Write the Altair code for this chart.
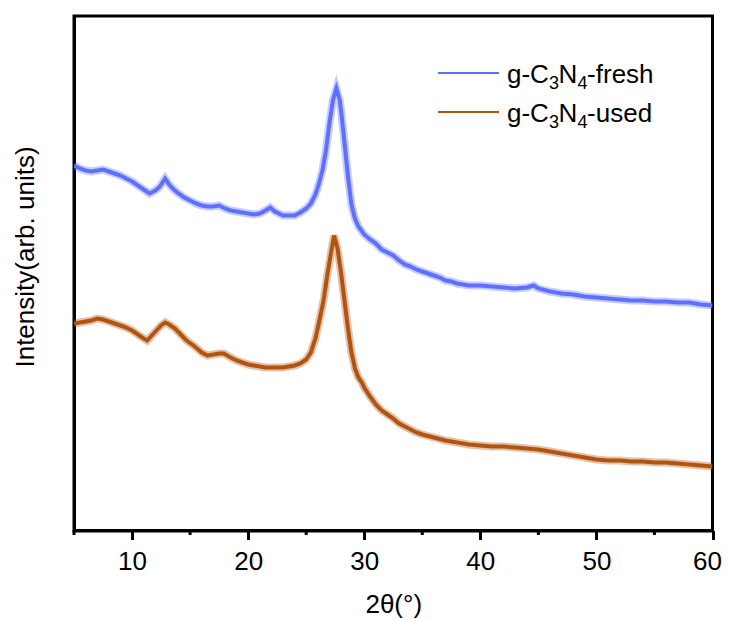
import altair as alt
import pandas as pd

# ---- data (2theta in degrees, intensity in arb. units) ----
fresh_x = [5.0, 5.5, 6.0, 6.5, 7.0, 7.5, 8.0, 8.5, 9.0, 9.5, 10.0, 10.5, 11.0, 11.5, 12.0, 12.4,
           12.85, 13.2, 13.6, 14.0, 14.5, 15.0, 15.5, 16.0, 16.5, 17.0, 17.5, 18.0, 18.5, 19.0,
           19.5, 20.0, 20.5, 21.0, 21.5, 21.9, 22.3, 23.0, 23.5, 24.0, 24.5, 25.0, 25.4, 25.8,
           26.1, 26.4, 26.7, 27.0, 27.3, 27.6, 27.9, 28.1, 28.3, 28.6, 28.9, 29.2, 29.5, 30.0,
           30.5, 31.0, 31.5, 32.0, 32.5, 33.0, 33.5, 34.0, 34.5, 35.0, 35.5, 36.0, 36.5, 37.0,
           37.5, 38.0, 38.5, 39.0, 40.0, 41.0, 42.0, 43.0, 44.0, 44.6, 45.0, 46.0, 47.0, 48.0,
           49.0, 50.0, 51.0, 52.0, 53.0, 54.0, 55.0, 56.0, 57.0, 58.0, 59.0, 60.0]
fresh_y = [365, 362, 360, 359, 360, 361, 359, 357, 355, 352, 349, 345, 341, 337, 340, 344,
           352, 346, 341, 337, 333, 330, 327, 325, 324, 324, 325, 322, 320, 319,
           318, 317, 316, 317, 320, 323, 319, 315, 315, 315, 318, 322, 327, 336,
           347, 360, 380, 407, 430, 442, 430, 410, 388, 354, 326, 312, 304, 296,
           291, 287, 281, 278, 275, 270, 266, 264, 261, 259, 257, 255, 253, 250,
           249, 247, 246, 245, 245, 244, 243, 242, 243, 245, 242, 239, 237, 236,
           234, 233, 232, 231, 230, 230, 229, 229, 228, 228, 226, 225]

used_x = [5.0, 5.5, 6.0, 6.5, 7.0, 7.5, 8.0, 8.5, 9.0, 9.5, 10.0, 10.5, 11.0, 11.3, 11.7, 12.1,
          12.5, 12.85, 13.2, 13.7, 14.2, 14.7, 15.3, 16.0, 16.5, 17.0, 17.5, 17.9, 18.5, 19.0,
          19.5, 20.0, 20.5, 21.0, 21.5, 22.0, 22.5, 23.0, 23.5, 24.0, 24.5, 25.0, 25.4, 25.8,
          26.1, 26.5, 26.8, 27.1, 27.4, 27.7, 28.0, 28.3, 28.6, 28.9, 29.2, 29.5, 29.8, 30.0,
          30.5, 31.0, 31.5, 32.0, 32.5, 33.0, 33.5, 34.0, 34.5, 35.0, 36.0, 37.0, 38.0, 39.0,
          40.0, 41.0, 42.0, 43.0, 44.0, 45.0, 46.0, 47.0, 48.0, 49.0, 50.0, 51.0, 52.0, 53.0,
          54.0, 55.0, 56.0, 57.0, 58.0, 59.0, 60.0]
used_y = [207, 208, 209, 210, 212, 211, 209, 207, 205, 203, 200, 196, 192, 190, 195, 200,
          205, 208, 206, 202, 196, 190, 185, 178, 175, 176, 177, 177, 173, 170,
          168, 166, 165, 164, 163, 163, 163, 163, 164, 165, 167, 171, 178, 192,
          208, 230, 254, 275, 295, 282, 258, 230, 202, 178, 162, 153, 148, 143,
          134, 126, 120, 116, 112, 107, 104, 101, 98, 96, 93, 90, 88, 86,
          85, 84, 84, 83, 82, 81, 79, 77, 75, 73, 71, 70, 70, 69,
          69, 68, 68, 67, 66, 65, 64]

series_names = ["g-C3N4-fresh", "g-C3N4-used"]
series_colors = ["#5F6FFF", "#B05410"]

x_ticks = [10, 20, 30, 40, 50, 60]
x_minor = [5, 15, 25, 35, 45, 55]

W, H = 638.5, 514.5
FONT = "Liberation Sans"

df = pd.concat([
    pd.DataFrame({"x": fresh_x, "y": fresh_y, "s": series_names[0]}),
    pd.DataFrame({"x": used_x, "y": used_y, "s": series_names[1]}),
])

xscale = alt.Scale(domain=[5, 60], nice=False, zero=False)
yscale = alt.Scale(domain=[0, 514.5], nice=False, zero=True)
cscale = alt.Scale(domain=series_names, range=series_colors)

# soft halo under each trace, imitating the noise band of the measured pattern
halo = alt.Chart(df).mark_line(strokeWidth=8, opacity=0.35, clip=True).encode(
    x=alt.X("x:Q", scale=xscale, title="2θ(°)",
            axis=alt.Axis(values=x_ticks, tickSize=9, tickWidth=3, tickColor="black",
                          domain=True, domainColor="black", domainWidth=3,
                          labelFontSize=26, labelFont=FONT, labelColor="black",
                          labelPadding=9, labelFlush=True, labelFlushOffset=9, grid=False,
                          titleFontSize=26, titleFont=FONT, titleFontWeight="normal",
                          titleColor="black", titleBaseline="alphabetic", titleY=81.5)),
    y=alt.Y("y:Q", scale=yscale, title="Intensity(arb. units)",
            axis=alt.Axis(labels=False, ticks=False, grid=False, domain=True,
                          domainColor="black", domainWidth=3,
                          titleFontSize=26, titleFont=FONT, titleFontWeight="normal",
                          titleColor="black", titleAngle=270, titleBaseline="alphabetic",
                          titleAlign="center", titleX=-41, titleY=240.5)),
    color=alt.Color("s:N", scale=cscale, legend=None),
    detail="s:N",
)

lines = alt.Chart(df).mark_line(strokeWidth=4, clip=True).encode(
    x=alt.X("x:Q", scale=xscale),
    y=alt.Y("y:Q", scale=yscale),
    color=alt.Color("s:N", scale=cscale, legend=None),
    detail="s:N",
)

minor = alt.Chart(pd.DataFrame({"v": x_minor})).mark_rule(strokeWidth=3, color="black").encode(
    x=alt.X("v:Q", scale=xscale),
    y=alt.value(H),
    y2=alt.value(H + 4.5),
)

# legend drawn by hand (lines + text with subscripts)
layers = [halo, lines, minor]
leg_rows = [(57, series_colors[0], "-fresh"), (96, series_colors[1], "-used")]
for yy, col, tail in leg_rows:
    layers.append(alt.Chart(pd.DataFrame({"a": [0]})).mark_rule(strokeWidth=2, color=col).encode(
        x=alt.value(364), x2=alt.value(425), y=alt.value(yy), y2=alt.value(yy)))
    base_y = yy + 10
    pieces = [("g-C", 433, base_y, 26), ("3", 475, base_y + 6, 18), ("N", 484.6, base_y, 26),
              ("4", 503.4, base_y + 6, 18), (tail, 513.1, base_y, 26)]
    for txt, px, py, fs in pieces:
        layers.append(alt.Chart(pd.DataFrame({"t": [txt]})).mark_text(
            align="left", baseline="alphabetic", font=FONT, fontSize=fs, color="black").encode(
            text="t:N", x=alt.value(px), y=alt.value(py)))

chart = alt.layer(*layers).properties(
    width=W, height=H,
    autosize=alt.AutoSizeParams(type="none"),
    padding={"left": 66, "top": 8, "right": 9.5, "bottom": 92},
).configure_view(stroke="black", strokeWidth=3)

chart.save("out.html", embed_options={"renderer": "svg", "actions": False})
